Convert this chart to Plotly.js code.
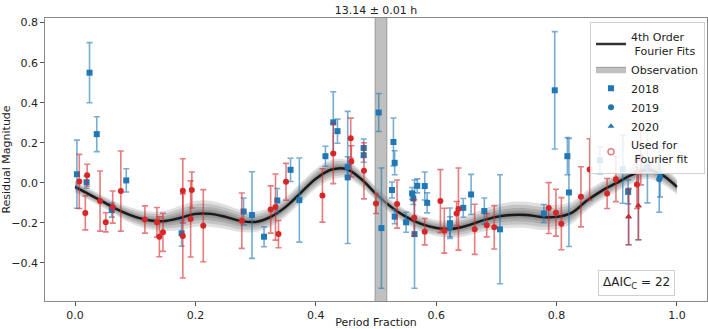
<!DOCTYPE html>
<html>
<head>
<meta charset="utf-8">
<script src="https://cdn.plot.ly/plotly-3.0.1.min.js"></script>
<style>
  html, body { margin: 0; padding: 0; background: #fff; }
  #chart { width: 708px; height: 329px; }
</style>
</head>
<body>
<div id="chart"></div>
<script>
// Curva de ajuste (centro del haz de ajustes de Fourier)
const fitPhase = [0, 0.025, 0.05, 0.075, 0.1, 0.125, 0.15, 0.175, 0.2, 0.225, 0.25, 0.275, 0.3, 0.325, 0.35, 0.375, 0.4, 0.425, 0.45, 0.475, 0.5, 0.525, 0.55, 0.575, 0.6, 0.625, 0.65, 0.675, 0.7, 0.725, 0.75, 0.775, 0.8, 0.825, 0.85, 0.875, 0.9, 0.925, 0.95, 0.975, 1.0];
const fitCenter = [-0.02, -0.06, -0.1, -0.14, -0.17, -0.188, -0.19, -0.175, -0.155, -0.155, -0.17, -0.19, -0.195, -0.17, -0.12, -0.05, 0.02, 0.065, 0.07, 0.02, -0.055, -0.12, -0.17, -0.205, -0.225, -0.23, -0.215, -0.19, -0.17, -0.16, -0.16, -0.17, -0.17, -0.15, -0.09, -0.04, 0.0, 0.04, 0.065, 0.04, -0.02];
// Semi-anchura del haz de ajustes
const fitSpread = [0.03, 0.03, 0.03, 0.035, 0.04, 0.045, 0.05, 0.06, 0.065, 0.065, 0.06, 0.055, 0.05, 0.05, 0.05, 0.05, 0.05, 0.05, 0.045, 0.04, 0.035, 0.035, 0.035, 0.04, 0.04, 0.045, 0.05, 0.055, 0.06, 0.065, 0.065, 0.065, 0.06, 0.055, 0.05, 0.045, 0.045, 0.045, 0.045, 0.045, 0.04];

// Ventana de observación
const obsRange = [0.4985, 0.518];

// 2018 (cuadrados azules)
const x2018 = [0.003, 0.024, 0.019, 0.036, 0.061, 0.085, 0.177, 0.28, 0.294, 0.314, 0.336, 0.358, 0.3726, 0.416, 0.429, 0.436, 0.453, 0.453, 0.4795, 0.4795, 0.5045, 0.509, 0.529, 0.531, 0.5266, 0.531, 0.55, 0.56, 0.562, 0.5686, 0.564, 0.581, 0.585, 0.623, 0.623, 0.645, 0.658, 0.68, 0.706, 0.779, 0.797, 0.818, 0.8206, 0.872, 0.91, 0.919, 0.951];
const y2018 = [0.043, 0.55, 0.003, 0.243, -0.136, 0.012, -0.252, -0.143, -0.161, -0.269, -0.088, 0.065, -0.086, 0.133, 0.302, 0.258, 0.08, 0.027, 0.174, 0.138, 0.351, -0.226, 0.204, 0.1, -0.036, -0.169, -0.197, -0.053, -0.078, -0.015, -0.256, -0.016, -0.1, -0.202, -0.219, -0.125, -0.058, -0.141, -0.232, -0.153, 0.462, 0.133, -0.048, 0.113, 0.068, -0.045, 0.08];
const e2018 = [0.17, 0.15, 0.03, 0.087, 0.035, 0.058, 0.065, 0.067, 0.216, 0.05, 0.06, 0.058, 0.21, 0.05, 0.153, 0.06, 0.05, 0.33, 0.045, 0.035, 0.095, 0.3, 0.12, 0.06, 0.04, 0.035, 0.05, 0.03, 0.03, 0.035, 0.27, 0.07, 0.05, 0.076, 0.05, 0.047, 0.1, 0.065, 0.272, 0.045, 0.293, 0.093, 0.27, 0.067, 0.17, 0.06, 0.18];

// 2019 (círculos azules)
const x2019 = [0.9706, 0.972];
const y2019 = [0.018, 0.03];
const e2019 = [0.165, 0.1];

// 2020 (triángulos azules)
const x2020 = [0.9197, 0.936];
const y2020 = [-0.169, -0.114];
const e2020 = [0.14, 0.17];

// Puntos usados para el ajuste (rojo)
const xFit = [0.007, 0.017, 0.020, 0.0415, 0.051, 0.0625, 0.076, 0.116, 0.136, 0.140, 0.146, 0.179, 0.179, 0.194, 0.192, 0.213, 0.277, 0.325, 0.333, 0.338, 0.3505, 0.411, 0.429, 0.458, 0.459, 0.48, 0.5, 0.535, 0.5636, 0.581, 0.607, 0.6135, 0.634, 0.637, 0.664, 0.684, 0.6965, 0.787, 0.799, 0.808, 0.8405, 0.855, 0.884, 0.8987, 0.9336, 0.940];
const yFit = [0.007, -0.15, 0.038, -0.091, -0.197, -0.121, -0.041, -0.183, -0.197, -0.269, -0.247, -0.04, -0.265, -0.036, -0.18, -0.214, -0.189, -0.133, -0.121, -0.256, 0.005, -0.063, 0.146, 0.223, 0.107, 0.06, -0.103, -0.106, -0.174, -0.244, -0.091, -0.239, -0.153, -0.131, -0.232, -0.212, -0.222, -0.126, -0.149, -0.204, -0.07, 0.067, -0.053, 0.018, -0.008, 0.13];
const eFit = [0.135, 0.085, 0.055, 0.15, 0.048, 0.08, 0.2, 0.068, 0.074, 0.1, 0.095, 0.16, 0.21, 0.09, 0.19, 0.18, 0.138, 0.118, 0.165, 0.068, 0.092, 0.133, 0.15, 0.1, 0.078, 0.14, 0.05, 0.12, 0.09, 0.066, 0.157, 0.112, 0.06, 0.205, 0.125, 0.058, 0.108, 0.127, 0.117, 0.13, 0.15, 0.153, 0.075, 0.112, 0.12, 0.14];
const xFitTri = [0.9197, 0.936];
const yFitTri = [-0.169, -0.114];
const eFitTri = [0.14, 0.17];

const blue = "#1f77b4";
const red = "#d62728";
const fontFam = "DejaVu Sans, sans-serif";

// Haz de ajustes: bandas superpuestas de distinta anchura
const traces = [];
[1.0, 0.75, 0.5, 0.3, 0.15].forEach((k) => {
  traces.push({
    x: fitPhase,
    y: fitCenter.map((c, i) => c - k * fitSpread[i]),
    mode: "lines",
    line: { width: 0, shape: "spline" },
    hoverinfo: "skip",
    showlegend: false,
  });
  traces.push({
    x: fitPhase,
    y: fitCenter.map((c, i) => c + k * fitSpread[i]),
    mode: "lines",
    line: { width: 0, shape: "spline" },
    fill: "tonexty",
    fillcolor: "rgba(0,0,0,0.12)",
    hoverinfo: "skip",
    showlegend: false,
  });
});

traces.push({
  x: fitPhase,
  y: fitCenter,
  mode: "lines",
  name: "4th Order<br> Fourier Fits",
  line: { color: "rgba(0,0,0,0.8)", width: 2.5, shape: "spline" },
});

// Ventana de observación
traces.push({
  x: [obsRange[0], obsRange[0], obsRange[1], obsRange[1], obsRange[0]],
  y: [-1, 1, 1, -1, -1],
  mode: "lines",
  fill: "toself",
  fillcolor: "rgba(150,150,150,0.6)",
  line: { width: 1, color: "rgba(140,140,140,0.8)" },
  name: "Observation",
});

function errSeries(x, y, e, name, color, symbol, legend) {
  return {
    x: x,
    y: y,
    mode: "markers",
    name: name,
    showlegend: legend,
    marker: { color: color, size: 6, symbol: symbol },
    error_y: {
      type: "data",
      array: e,
      visible: true,
      color: color === blue ? "rgba(31,119,180,0.6)" : "rgba(214,39,40,0.6)",
      thickness: 1.6,
      width: 3,
    },
  };
}

traces.push(errSeries(x2018, y2018, e2018, "2018", blue, "square", true));
traces.push(errSeries(x2019, y2019, e2019, "2019", blue, "circle", true));
traces.push(errSeries(x2020, y2020, e2020, "2020", blue, "triangle-up", true));
traces.push(errSeries(xFit, yFit, eFit, "Used for<br> Fourier fit", red, "circle", false));
traces.push(errSeries(xFitTri, yFitTri, eFitTri, "Used for<br> Fourier fit", red, "triangle-up", false));

// Entrada de leyenda para los puntos del ajuste (círculo abierto)
traces.push({
  x: [null],
  y: [null],
  mode: "markers",
  name: "Used for<br> Fourier fit",
  marker: { color: "rgba(214,39,40,0.6)", size: 6, symbol: "circle-open", line: { width: 1.5 } },
});

const axisStyle = {
  showline: true,
  mirror: true,
  linecolor: "#888",
  linewidth: 1.3,
  ticks: "outside",
  ticklen: 3.5,
  tickcolor: "#555",
  showgrid: false,
  zeroline: false,
  tickfont: { family: fontFam, size: 11, color: "#222" },
};

const layout = {
  width: 708,
  height: 329,
  margin: { l: 45, r: 1, t: 18, b: 28 },
  paper_bgcolor: "#fff",
  plot_bgcolor: "#fff",
  font: { family: fontFam, size: 11, color: "#222" },
  title: {
    text: "13.14 ± 0.01 h",
    font: { family: fontFam, size: 11, color: "#222" },
    x: 0.5,
    xref: "paper",
    y: 0.97,
    yanchor: "middle",
  },
  xaxis: Object.assign({}, axisStyle, {
    range: [-0.05, 1.05],
    tickvals: [0, 0.2, 0.4, 0.6, 0.8, 1.0],
    ticktext: ["0.0", "0.2", "0.4", "0.6", "0.8", "1.0"],
    title: { text: "Period Fraction", font: { family: fontFam, size: 11, color: "#222" }, standoff: 4 },
  }),
  yaxis: Object.assign({}, axisStyle, {
    range: [-0.59, 0.823],
    tickvals: [-0.4, -0.2, 0, 0.2, 0.4, 0.6, 0.8],
    ticktext: ["\u22120.4", "\u22120.2", "0.0", "0.2", "0.4", "0.6", "0.8"],
    title: { text: "Residual Magnitude", font: { family: fontFam, size: 11, color: "#222" }, standoff: 6 },
  }),
  legend: {
    x: 0.997,
    xanchor: "right",
    y: 0.985,
    yanchor: "top",
    traceorder: "normal",
    bgcolor: "rgba(255,255,255,0.85)",
    bordercolor: "#d0d0d0",
    borderwidth: 1,
    font: { family: fontFam, size: 11, color: "#222" },
    itemwidth: 30,
    tracegroupgap: 0,
  },
  annotations: [
    {
      x: 0.893,
      y: 0.064,
      xref: "paper",
      yref: "paper",
      xanchor: "center",
      yanchor: "middle",
      text: "ΔAIC<sub>C</sub> = 22",
      showarrow: false,
      font: { family: fontFam, size: 12, color: "#222" },
      bgcolor: "#fff",
      bordercolor: "#d0d0d0",
      borderwidth: 1,
      borderpad: 4,
    },
  ],
  showlegend: true,
};

Plotly.newPlot("chart", traces, layout, { displayModeBar: false, staticPlot: true });
</script>
</body>
</html>
